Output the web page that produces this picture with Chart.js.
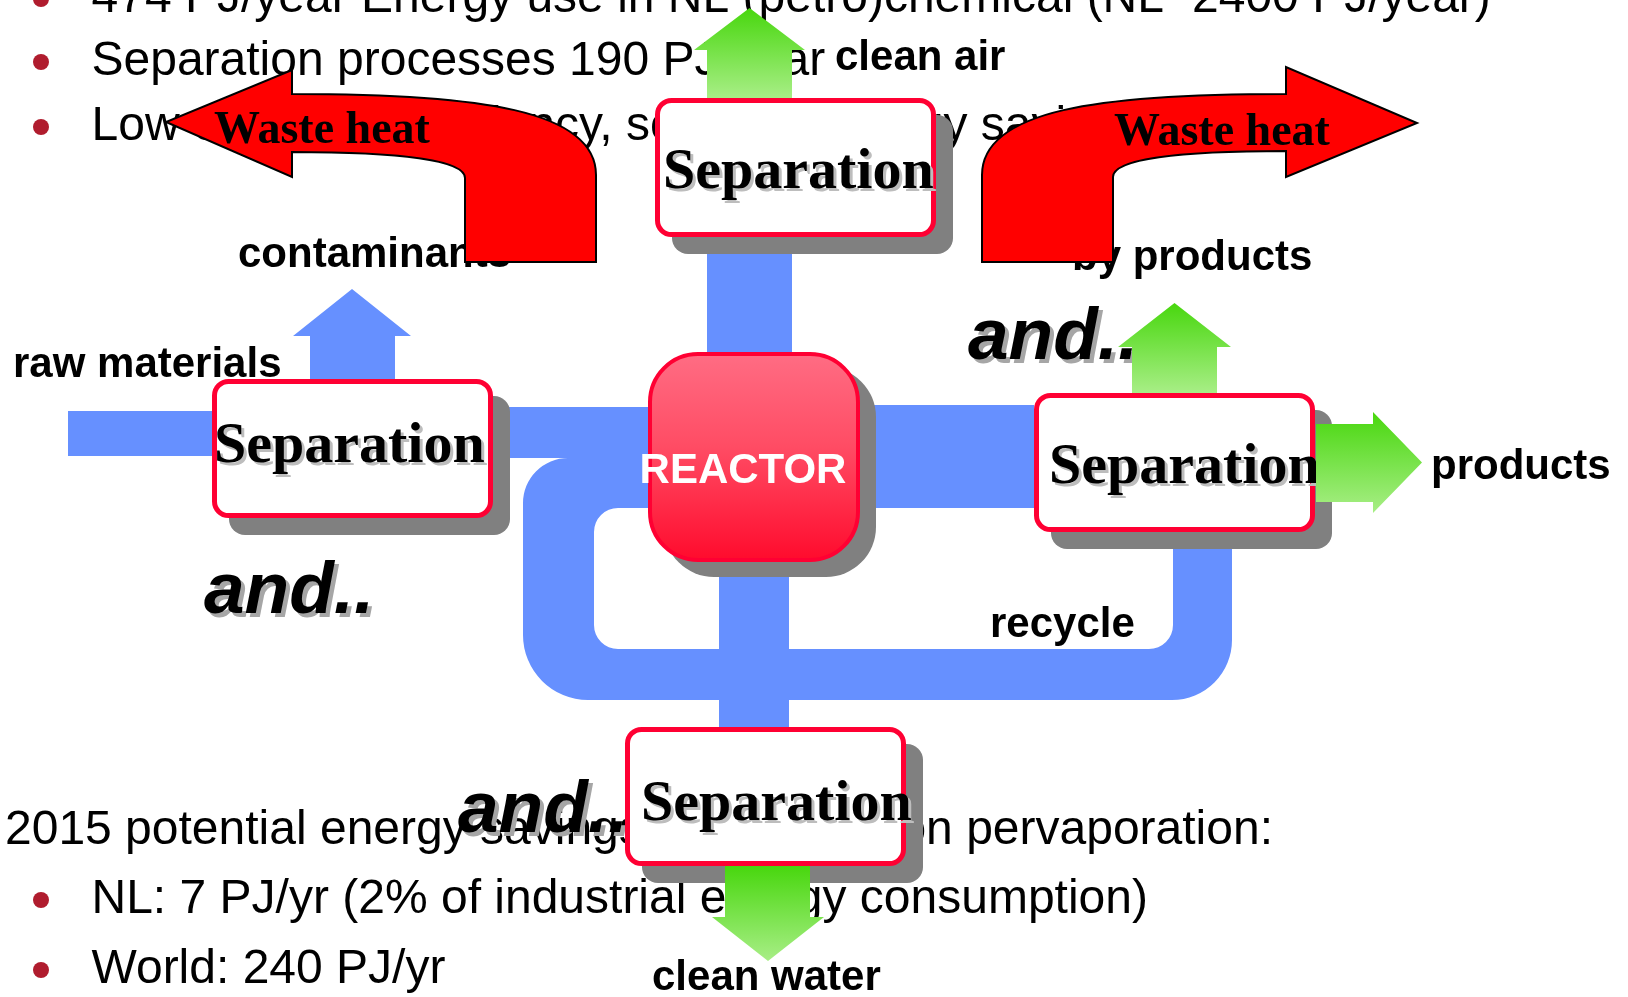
<!DOCTYPE html>
<html>
<head>
<meta charset="utf-8">
<script src="https://cdn.jsdelivr.net/npm/chart.js@4.4.1/dist/chart.umd.min.js"></script>
<style>
    html, body { margin: 0; padding: 0; background: #fff; overflow: hidden; }
    canvas { display: block; }
</style>
</head>
<body>
<canvas id="flowChart" width="1628" height="997"></canvas>
<script>
// picture units: the diagram is laid out on a 1628 x 997 grid
const W = 1628, H = 997;

// slide text
const topLines = [
    "474 PJ/year Energy use in NL (petro)chemical (NL~2400 PJ/year)",
    "Separation processes 190 PJ/year",
    "Low energetic efficiency, so much energy saving potential",
];
const topBaselines = [12, 75, 140];
const savingsIntro = ["2015 potential energy savings", "based on pervaporation:"];
const bottomLines = ["NL: 7 PJ/yr (2% of industrial energy consumption)", "World: 240 PJ/yr"];
const bottomBaselines = [913, 983];

// process units
const sepBoxes = [[212, 379], [655, 98], [1034, 393], [625, 727]];
const sepTextAt = [[214, 462], [663, 188], [1049, 483], [641, 820]];
const reactorBox = [648, 352, 860, 562];

// streams
const pipes = [
    [68, 411, 212, 456],
    [493, 407, 648, 458],
    [707, 237, 792, 358],
    [719, 560, 789, 727],
    [860, 405, 1034, 508],
];
const loopOuter = [523, 458, 1232, 700];
const loopInner = [594, 508, 1173, 649];

// [direction, stem from, stem to, tail, head base, head from, head to, tip]
const blueArrows = [["up", 310, 395, 379, 336, 293, 411, 289]];
const greenArrows = [
    ["up", 707, 792, 98, 50, 694, 805, 8],
    ["up", 1132, 1217, 393, 347, 1118, 1231, 303],
    ["right", 424, 502, 1316, 1373, 412, 513, 1422],
    ["down", 725, 810, 866, 917, 712, 824, 961],
];

// waste heat arrows: direction, stem inner x, stem outer x, band top, band bottom, head base x, head top, head bottom, tip x, tip y
const wasteHeat = [
    [-1, 465, 596, 94, 152, 292, 70, 177, 166, 122],
    [1, 1113, 982, 94, 151, 1286, 67, 177, 1417, 123],
];
const wasteHeatText = [[214, 143], [1114, 145]];

const labels = ["raw materials", "contaminants", "clean air", "by products", "products", "recycle", "clean water"];
const labelAt = [[13, 377], [238, 267], [835, 70], [1072, 270], [1431, 479], [990, 637], [652, 990]];
const andAt = [[204, 613], [968, 359], [458, 832]];

const BLUE = "#6690FF";
const BOX_W = 281, BOX_H = 139;

const SANS = '"Liberation Sans", Arial, sans-serif';
const SERIF = '"Liberation Serif", "Times New Roman", serif';

const bulletPoints = topBaselines.concat(bottomBaselines).map((b) => ({ x: 41, y: b - 13 }));

function drawDiagram(chart, layer) {
    const ctx = chart.ctx;
    const sx = chart.scales.x;
    const sy = chart.scales.y;
    const k = (sx.getPixelForValue(W) - sx.getPixelForValue(0)) / W;
    const X = (v) => sx.getPixelForValue(v);
    const Y = (v) => sy.getPixelForValue(v);

    function text(str, x, y, font, color, align) {
        ctx.font = font;
        ctx.fillStyle = color;
        ctx.textAlign = align || "left";
        ctx.textBaseline = "alphabetic";
        ctx.fillText(str, X(x), Y(y));
    }

    function rounded(x0, y0, x1, y1, r) {
        const radii = Array.isArray(r) ? r.map((v) => v * k) : r * k;
        ctx.roundRect(X(x0), Y(y0), X(x1) - X(x0), Y(y1) - Y(y0), radii);
    }

    function blockArrow(a, fill) {
        const [dir, s0, s1, tail, base, h0, h1, tip] = a;
        const mid = (h0 + h1) / 2;
        let pts;
        if (dir === "right") {
            pts = [[tail, s0], [base, s0], [base, h0], [tip, mid], [base, h1], [base, s1], [tail, s1]];
        } else {
            pts = [[s0, tail], [s0, base], [h0, base], [mid, tip], [h1, base], [s1, base], [s1, tail]];
        }
        const ys = pts.map((p) => p[1]);
        ctx.beginPath();
        pts.forEach((p, i) => (i ? ctx.lineTo(X(p[0]), Y(p[1])) : ctx.moveTo(X(p[0]), Y(p[1]))));
        ctx.closePath();
        if (fill) {
            ctx.fillStyle = fill;
        } else {
            const g = ctx.createLinearGradient(0, Y(Math.min(...ys)), 0, Y(Math.max(...ys)));
            g.addColorStop(0, "#48D70E");
            g.addColorStop(1, "#A8EE86");
            ctx.fillStyle = g;
        }
        ctx.fill();
    }

    if (layer === "back") {
        const body = `${48 * k}px ${SANS}`;
        topLines.forEach((t, i) => text(t, 91.5, topBaselines[i], body, "#000"));
        text(savingsIntro[0], 5, 844, body, "#000");
        text(savingsIntro[1], 1273, 844, body, "#000", "right");
        bottomLines.forEach((t, i) => text(t, 91.5, bottomBaselines[i], body, "#000"));
        return;
    }

    // blue streams
    ctx.fillStyle = BLUE;
    pipes.forEach((p) => ctx.fillRect(X(p[0]), Y(p[1]), X(p[2]) - X(p[0]), Y(p[3]) - Y(p[1])));
    ctx.beginPath();
    rounded(loopOuter[0], loopOuter[1], loopOuter[2], loopOuter[3], [45, 0, 60, 65]);
    rounded(loopInner[0], loopInner[1], loopInner[2], loopInner[3], 24);
    ctx.fill("evenodd");
    blueArrows.forEach((a) => blockArrow(a, BLUE));

    // labels
    const labelFont = `bold ${42 * k}px ${SANS}`;
    labels.forEach((t, i) => text(t, labelAt[i][0], labelAt[i][1], labelFont, "#000"));

    // "and.."
    const andFont = `italic bold ${73 * k}px ${SANS}`;
    andAt.forEach((p) => {
        text("and..", p[0] + 4, p[1] + 4, andFont, "#A6A6A6");
        text("and..", p[0], p[1], andFont, "#000");
    });

    // separation units
    sepBoxes.forEach((b, i) => {
        const [x0, y0] = b;
        ctx.fillStyle = "#808080";
        ctx.beginPath();
        rounded(x0 + 17, y0 + 17, x0 + BOX_W + 17, y0 + BOX_H + 17, 16);
        ctx.fill();
        ctx.beginPath();
        rounded(x0 + 2.5, y0 + 2.5, x0 + BOX_W - 2.5, y0 + BOX_H - 2.5, 14);
        ctx.fillStyle = "#fff";
        ctx.fill();
        ctx.lineWidth = 5 * k;
        ctx.strokeStyle = "#FF0033";
        ctx.stroke();
        const sepFont = `bold ${58 * k}px ${SERIF}`;
        text("Separation", sepTextAt[i][0] + 3, sepTextAt[i][1] + 3, sepFont, "#BDBDBD");
        text("Separation", sepTextAt[i][0], sepTextAt[i][1], sepFont, "#000");
    });

    // reactor
    const [rx0, ry0, rx1, ry1] = reactorBox;
    ctx.fillStyle = "#808080";
    ctx.beginPath();
    rounded(rx0 + 16, ry0 + 15, rx1 + 16, ry1 + 15, 50);
    ctx.fill();
    const rg = ctx.createLinearGradient(0, Y(ry0), 0, Y(ry1));
    rg.addColorStop(0, "#FF6D84");
    rg.addColorStop(0.45, "#FF4C64");
    rg.addColorStop(1, "#FF0A2C");
    ctx.beginPath();
    rounded(rx0 + 2, ry0 + 2, rx1 - 2, ry1 - 2, 48);
    ctx.fillStyle = rg;
    ctx.fill();
    ctx.lineWidth = 4 * k;
    ctx.strokeStyle = "#FF0033";
    ctx.stroke();
    text("REACTOR", 743, 483, `bold ${42 * k}px ${SANS}`, "#fff", "center");

    // green product streams
    greenArrows.forEach((a) => blockArrow(a));

    // waste heat
    wasteHeat.forEach((w) => {
        const [d, si, so, yt, yb, hb, ht, hbot, tx, ty] = w;
        ctx.beginPath();
        ctx.moveTo(X(si), Y(262));
        ctx.lineTo(X(si), Y(yb + 26));
        ctx.bezierCurveTo(X(si), Y(yb + 8), X(si + d * 65), Y(yb), X(hb), Y(yb));
        ctx.lineTo(X(hb), Y(hbot));
        ctx.lineTo(X(tx), Y(ty));
        ctx.lineTo(X(hb), Y(ht));
        ctx.lineTo(X(hb), Y(yt));
        ctx.bezierCurveTo(X(so + d * 116), Y(yt), X(so), Y(yt + 16), X(so), Y(yt + 81));
        ctx.lineTo(X(so), Y(262));
        ctx.closePath();
        ctx.fillStyle = "#FF0000";
        ctx.fill();
        ctx.lineWidth = 2 * k;
        ctx.strokeStyle = "#000";
        ctx.lineJoin = "miter";
        ctx.stroke();
    });
    wasteHeatText.forEach((p) => text("Waste heat", p[0], p[1], `bold ${46 * k}px ${SERIF}`, "#000"));
}

const diagramPlugin = {
    id: "diagram",
    beforeDatasetsDraw(chart) {
        drawDiagram(chart, "back");
    },
    afterDatasetsDraw(chart) {
        drawDiagram(chart, "front");
    },
};

const ctx = document.getElementById("flowChart").getContext("2d");
new Chart(ctx, {
    type: "scatter",
    data: {
        datasets: [
            {
                label: "bullets",
                data: bulletPoints,
                pointRadius: 8,
                pointBackgroundColor: "#B01C2E",
                pointBorderWidth: 0,
                clip: false,
            },
        ],
    },
    options: {
        responsive: false,
        animation: false,
        devicePixelRatio: 1,
        layout: { padding: 0, autoPadding: false },
        events: [],
        plugins: {
            legend: { display: false },
            tooltip: { enabled: false },
        },
        scales: {
            x: { type: "linear", min: 0, max: W, display: false },
            y: { type: "linear", min: 0, max: H, reverse: true, display: false },
        },
    },
    plugins: [diagramPlugin],
});
</script>
</body>
</html>
